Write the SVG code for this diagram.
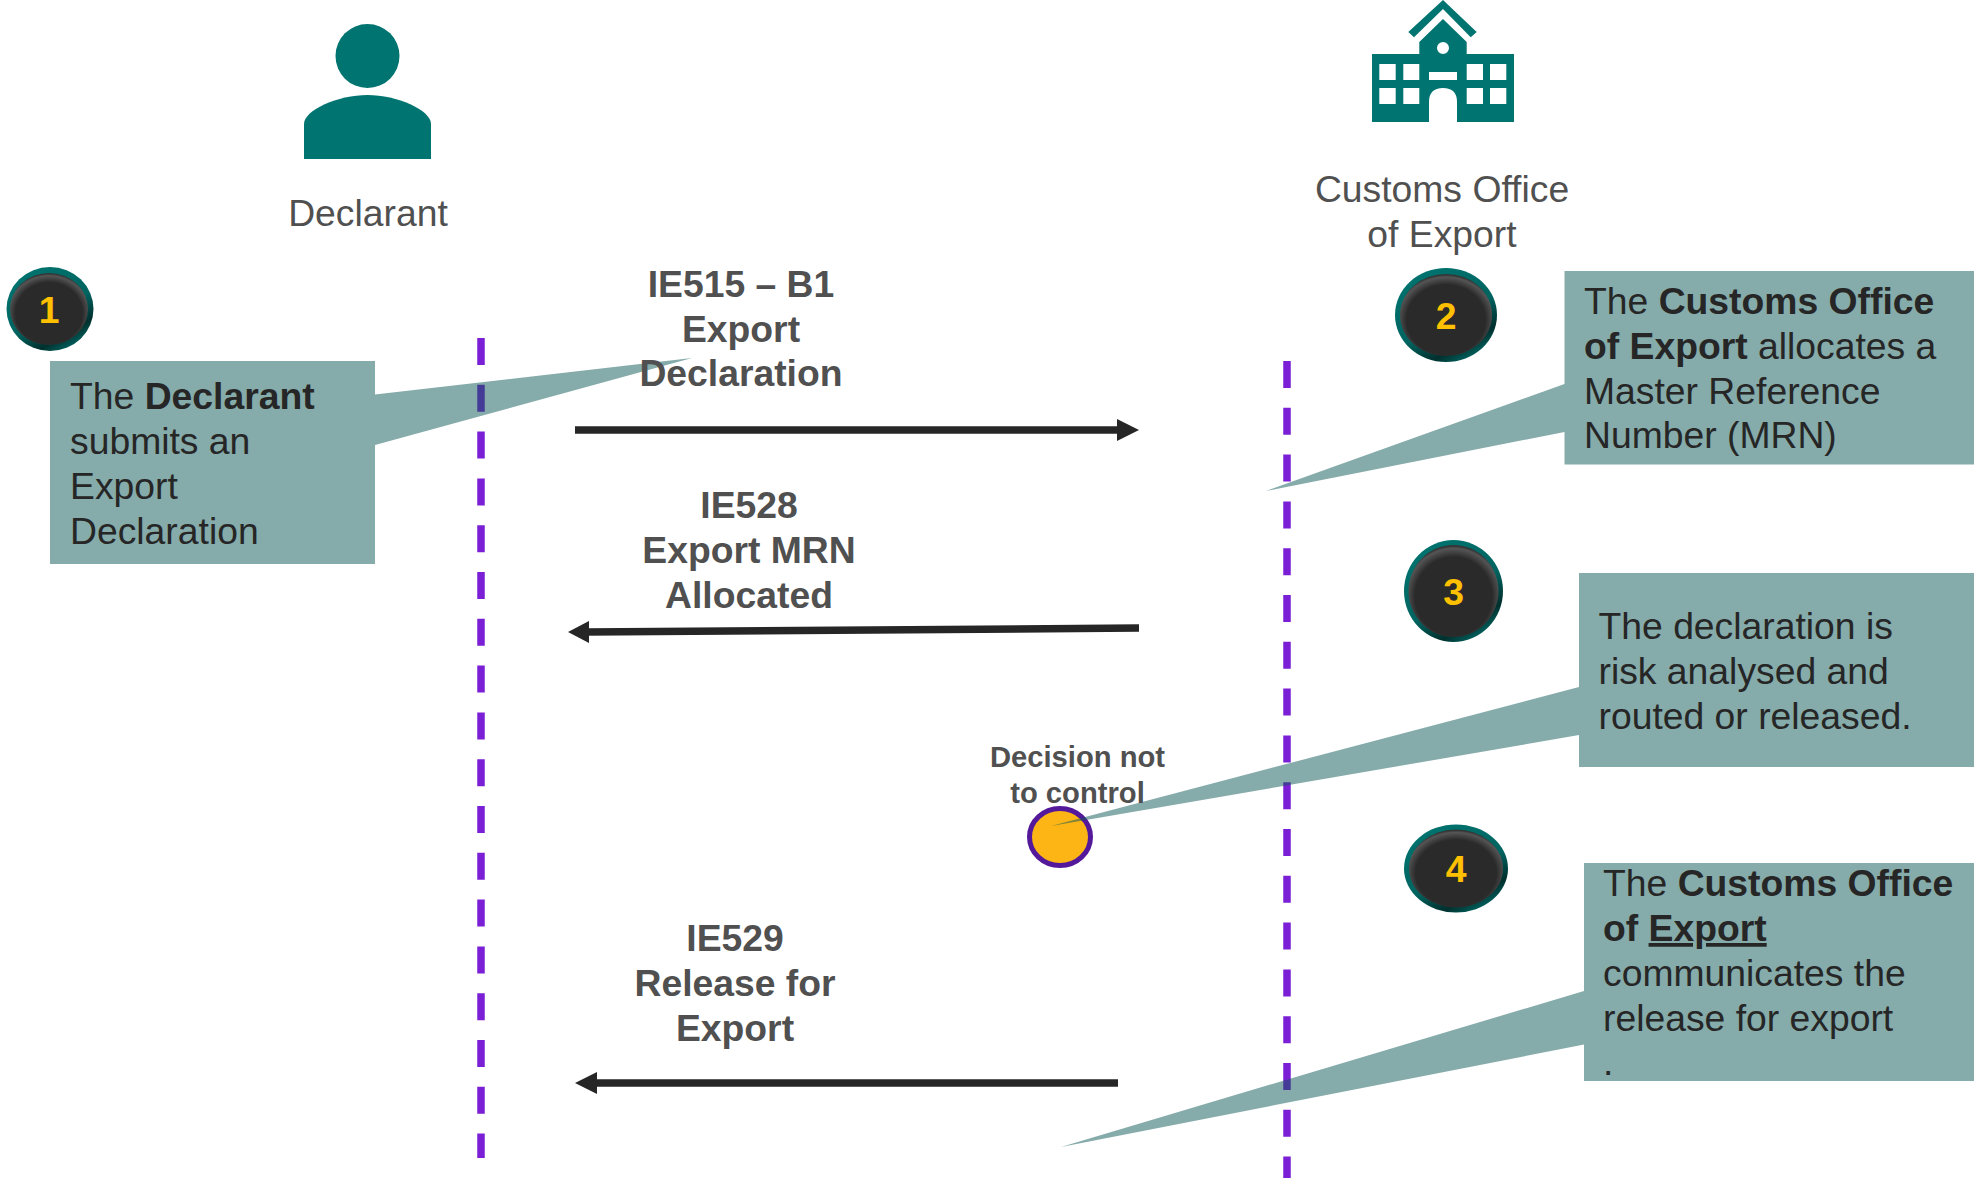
<svg xmlns="http://www.w3.org/2000/svg" width="1974" height="1178" viewBox="0 0 1974 1178">
<style>
text{font-family:"Liberation Sans",Arial,sans-serif;font-size:37.300px}
.lab{fill:#505050}
.c{text-anchor:middle}
.b{font-weight:700}
.t{fill:#262626}
.small{font-size:29.200px}
.call{fill:#0c5855;fill-opacity:.5}
.icon{fill:#007470}
.life{stroke:#7b1fd6;stroke-width:7.500;stroke-dasharray:27 19.800;fill:none}
.arrow{stroke:#262626;stroke-width:7.500;fill:none}
.head{fill:#262626}
.rim{fill:url(#rim)}
.face{fill:url(#face)}
.num{fill:#ffc000;font-weight:700;text-anchor:middle}
</style>
<defs>
<linearGradient id="rim" x1="0.2" y1="0" x2="0.8" y2="1"><stop offset="0" stop-color="#007470"/><stop offset=".55" stop-color="#006460"/><stop offset=".8" stop-color="#00302e"/><stop offset="1" stop-color="#007470"/></linearGradient>
<radialGradient id="face" cx=".5" cy=".56" r=".55"><stop offset="0" stop-color="#2a2a2a"/><stop offset=".78" stop-color="#2a2a2a"/><stop offset=".95" stop-color="#555"/><stop offset="1" stop-color="#333"/></radialGradient>
</defs>
<rect width="1974" height="1178" fill="#fff"/>
<g id="connectors">
<path class="life" d="M481 338V1158"/>
<path class="life" d="M1287 361V1178"/>
<path class="arrow" d="M575 430H1120"/><path class="head" d="M1139 430L1117 419V441Z"/>
<path class="arrow" d="M1139 628L586 632"/><path class="head" d="M568 632L589 621V643Z"/>
<path class="arrow" d="M1118 1083H592"/><path class="head" d="M575 1083L597 1072V1094Z"/>
</g>
<g id="declarant">
<circle class="icon" cx="367.500" cy="56" r="32"/>
<path class="icon" d="M304 159V124C304 110 338 95 367.500 95C397 95 431 110 431 124V159Z"/>
<text class="lab c" x="368" y="226">Declarant</text>
</g>
<g id="customs-office">
<path class="icon" fill-rule="evenodd" d="M1372 54H1419.300V42L1443 19L1466.700 42V54H1514V122H1457V102Q1457 88 1443 88Q1429 88 1429 102V122H1372ZM1379.300 64V80H1395.700V64ZM1403.300 64V80H1419.300V64ZM1429 72V80H1457V72ZM1466.700 64V80H1483V64ZM1490 64V80H1506.300V64ZM1379.300 88V104H1395.700V88ZM1403.300 88V104H1419.300V88ZM1466.700 88V104H1483V88ZM1490 88V104H1506.300V88ZM1443 42A6 6 0 1 0 1443 54A6 6 0 1 0 1443 42Z"/>
<path class="icon" d="M1443 0L1476.700 32L1470.700 37.300L1443 9L1414 37.300L1408.300 32Z"/>
<text class="lab c" x="1442" y="202">Customs Office</text>
<text class="lab c" x="1442" y="247">of Export</text>
</g>
<g id="decision-marker">
<ellipse cx="1060" cy="837" rx="30.500" ry="28.500" fill="#fdb515" stroke="#54199b" stroke-width="5"/>
</g>
<g id="step-1">
<ellipse class="rim" cx="50" cy="309" rx="43.500" ry="42"/>
<ellipse class="face" cx="49" cy="309" rx="39" ry="36"/>
<text class="num" x="49" y="323">1</text>
<path class="call" d="M50 361H375V394.600L692 358L375 445V564H50Z"/>
<text class="t" x="70" y="408.700">The <tspan class="b">Declarant</tspan></text>
<text class="t" x="70" y="453.500">submits an</text>
<text class="t" x="70" y="499">Export</text>
<text class="t" x="70" y="544">Declaration</text>
</g>
<g id="step-2">
<ellipse class="rim" cx="1446" cy="315" rx="51" ry="47"/>
<ellipse class="face" cx="1446" cy="315" rx="46" ry="41"/>
<text class="num" x="1446" y="329">2</text>
<path class="call" d="M1564.500 271H1974V464.500H1564.500V432L1266 491L1564.500 384Z"/>
<text class="t" x="1584" y="314">The <tspan class="b">Customs Office</tspan></text>
<text class="t" x="1584" y="359"><tspan class="b">of Export</tspan> allocates a</text>
<text class="t" x="1584" y="404">Master Reference</text>
<text class="t" x="1584" y="448">Number (MRN)</text>
</g>
<g id="step-3">
<ellipse class="rim" cx="1453.500" cy="591" rx="49.500" ry="51"/>
<ellipse class="face" cx="1453.500" cy="591" rx="45" ry="46"/>
<text class="num" x="1453.500" y="605">3</text>
<path class="call" d="M1579 573H1974V767H1579V735L1051 826L1579 687Z"/>
<text class="t" x="1598.500" y="639">The declaration is</text>
<text class="t" x="1598.500" y="684">risk analysed and</text>
<text class="t" x="1598.500" y="729">routed or released.</text>
</g>
<g id="step-4">
<ellipse class="rim" cx="1456" cy="868.500" rx="52" ry="44"/>
<ellipse class="face" cx="1456" cy="868.500" rx="47" ry="39"/>
<text class="num" x="1456" y="882">4</text>
<path class="call" d="M1584 863H1974V1081H1584V1044.600L1061 1147L1584 991Z"/>
<text class="t" x="1603" y="896">The <tspan class="b">Customs Office</tspan></text>
<text class="t" x="1603" y="941"><tspan class="b">of <tspan text-decoration="underline">Export</tspan></tspan></text>
<text class="t" x="1603" y="986">communicates the</text>
<text class="t" x="1603" y="1031">release for export</text>
<text class="t" x="1603" y="1075">.</text>
</g>
<g id="decision-label">
<text class="lab c b small" x="1077.500" y="767">Decision not</text>
<text class="lab c b small" x="1077.500" y="803">to control</text>
</g>
<g id="label-ie515">
<text class="lab c b" x="741" y="297">IE515 – B1</text>
<text class="lab c b" x="741" y="341.500">Export</text>
<text class="lab c b" x="741" y="386">Declaration</text>
</g>
<g id="label-ie528">
<text class="lab c b" x="749" y="518">IE528</text>
<text class="lab c b" x="749" y="563">Export MRN</text>
<text class="lab c b" x="749" y="608">Allocated</text>
</g>
<g id="label-ie529">
<text class="lab c b" x="735" y="951">IE529</text>
<text class="lab c b" x="735" y="996">Release for</text>
<text class="lab c b" x="735" y="1041">Export</text>
</g>
</svg>
